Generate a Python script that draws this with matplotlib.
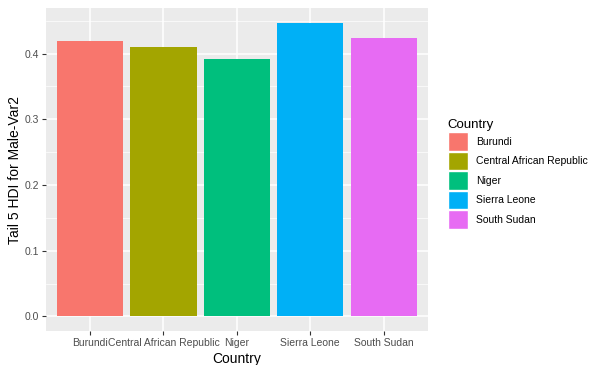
import matplotlib.pyplot as plt
from matplotlib.patches import Patch
from matplotlib.ticker import MultipleLocator

countries = ["Burundi", "Central African Republic", "Niger", "Sierra Leone", "South Sudan"]
values = [0.419, 0.410, 0.392, 0.447, 0.423]
colors = ["#F8766D", "#A3A500", "#00BF7D", "#00B0F6", "#E76BF3"]

plt.rcParams["font.family"] = ["Liberation Sans", "DejaVu Sans"]

fig = plt.figure(figsize=(5.9, 3.65), dpi=100)
ax = fig.add_axes([0.078, 0.093, 0.647, 0.885])
ax.set_facecolor("#EBEBEB")

x = list(range(1, len(countries) + 1))
ax.bar(x, values, width=0.9, color=colors, zorder=3)

# ggplot-like expansion
top = max(values)
ax.set_ylim(-0.05 * top, top * 1.05)
ax.set_xlim(0.4, 5.6)

ax.yaxis.set_major_locator(MultipleLocator(0.1))
ax.yaxis.set_minor_locator(MultipleLocator(0.05))
ax.grid(which="major", color="white", linewidth=1.1, zorder=0)
ax.grid(which="minor", axis="y", color="white", linewidth=0.5, zorder=0)
ax.set_axisbelow(True)

ax.set_xticks(x)
ax.set_xticklabels(countries)
ax.set_yticklabels([f"{v:.1f}" for v in ax.get_yticks()])
ax.tick_params(axis="both", which="major", labelsize=7.5, labelcolor="#4D4D4D",
               color="#333333", length=3, width=0.8, pad=2)
ax.tick_params(axis="both", which="minor", length=0)
for s in ax.spines.values():
    s.set_visible(False)

ax.set_xlabel("Country", fontsize=10, labelpad=3)
ax.set_ylabel("Tail 5 HDI for Male-Var2", fontsize=10, labelpad=2)

handles = [Patch(facecolor=c, edgecolor="white", linewidth=1) for c in colors]
leg = fig.legend(handles, countries, loc="upper left", bbox_to_anchor=(0.752, 0.685),
                 frameon=False, fontsize=7.5, title="Country", title_fontsize=9.5,
                 handlelength=1.9, handleheight=2.35, labelspacing=0.1,
                 handletextpad=0.8, borderaxespad=0)
leg._legend_box.align = "left"

fig.savefig("out.png", dpi=100)
